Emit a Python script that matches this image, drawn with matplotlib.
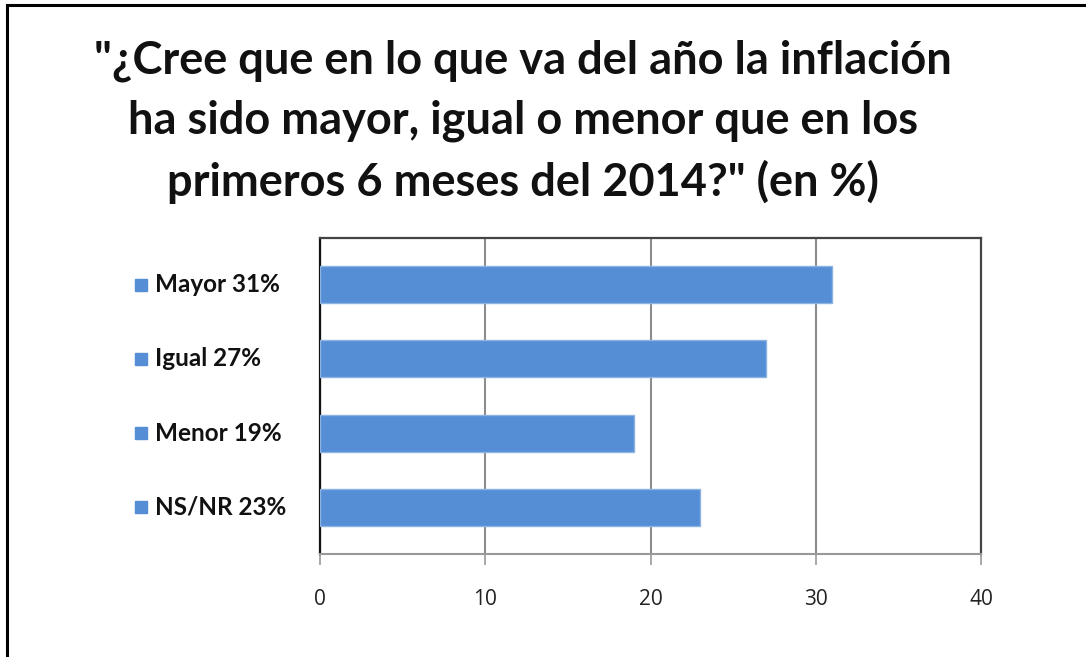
import matplotlib
matplotlib.use("Agg")
import matplotlib.pyplot as plt
from matplotlib.lines import Line2D
import matplotlib.transforms as mtransforms

categories = ["Mayor", "Igual", "Menor", "NS/NR"]
values = [31, 27, 19, 23]
xticks = [0, 10, 20, 30, 40]
title = ('"¿Cree que en lo que va del año la inflación\n'
         'ha sido mayor, igual o menor que en los\n'
         'primeros 6 meses del 2014?" (en %)')

BLUE = "#558ed5"

fig = plt.figure(figsize=(10.86, 6.57), dpi=100)
ax = fig.add_axes([320 / 1086, 1 - 554 / 657, 661 / 1086, 316 / 657])

ypos = list(range(len(categories)))
ax.barh(ypos, values, height=0.5, color=BLUE, edgecolor="#8db3e2", linewidth=1, zorder=3)
ax.set_ylim(len(categories) - 1 + 0.635, -0.635)
ax.set_xlim(0, 40)
ax.set_xticks(xticks)
ax.set_xticklabels([str(t) for t in xticks], fontname="Open Sans", fontsize=15, color="#222222")
ax.tick_params(axis="x", direction="out", length=8, width=1.2, color="#999999", pad=17.5)
ax.set_yticks([])
ax.grid(axis="x", color="#8c8c8c", linewidth=1.5, zorder=0)

ax.spines["left"].set_color("#111111")
ax.spines["left"].set_linewidth(1.6)
for s in ["top", "right"]:
    ax.spines[s].set_color("#444444")
    ax.spines[s].set_linewidth(1.6)
ax.spines["bottom"].set_color("#999999")
ax.spines["bottom"].set_linewidth(1.5)

# category labels with little blue squares
trans = mtransforms.blended_transform_factory(ax.transAxes, ax.transData)
for y, cat, val in zip(ypos, categories, values):
    ax.plot([-0.2708], [y], marker="s", markersize=8, color=BLUE, transform=trans, clip_on=False)
    ax.text(-0.2496, y, f"{cat} {val}%", transform=trans, ha="left", va="center",
            fontname="Lato", fontweight="bold", fontsize=17.5, color="#111111")

fig.text(523 / 1086, 1 - 122 / 657, title, ha="center", va="center", multialignment="center",
         fontname="Lato", fontweight="bold", fontsize=32.5, linespacing=1.5, color="#111111")

# outer frame
fig.add_artist(Line2D([7 / 1086, 1.0], [1 - 5 / 657, 1 - 5 / 657], color="black", linewidth=2.2))
fig.add_artist(Line2D([7 / 1086, 7 / 1086], [1 - 5 / 657, 0.0], color="black", linewidth=2.2))

fig.savefig("out.png", dpi=100)
